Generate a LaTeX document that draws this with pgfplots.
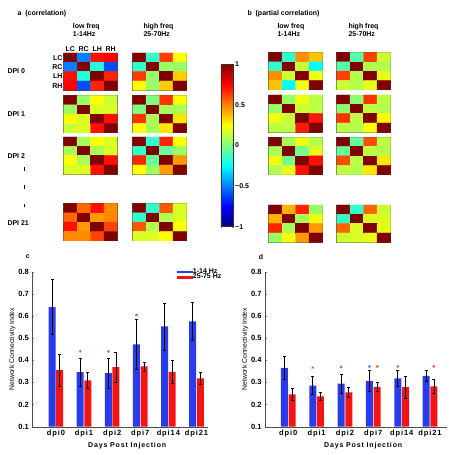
\documentclass[border=0pt]{standalone}
\usepackage{pgfplots}
\pgfplotsset{compat=1.18}
\usepackage{fontspec}
\setmainfont{Liberation Sans}
\newfontfamily\spaced[LetterSpace=12]{Liberation Sans}
\definecolor{barblue}{RGB}{40,60,235}
\definecolor{barred}{RGB}{245,20,20}
\definecolor{starblue}{RGB}{90,100,240}
\definecolor{starred}{RGB}{240,40,60}
\newcommand{\fs}{\bfseries\fontsize{7}{8.3}\selectfont}
\pgfplotsset{
 heat/.style={scale only axis, width=54pt, height=37.3pt, anchor=north west,
   xmin=-0.5,xmax=3.5,ymin=-0.5,ymax=3.5, y dir=reverse, enlargelimits=false,
   xtick=\empty, ytick=\empty, axis line style={black!70, line width=0.6pt},
   colormap/jet, point meta min=-1, point meta max=1},
 bars/.style={scale only axis, anchor=south west, height=155pt, ymin=0.1, ymax=0.8,
   axis x line*=bottom, axis y line*=left, axis line style={-, black!70},
   ytick={0.1,0.2,0.3,0.4,0.5,0.6,0.7,0.8},
   yticklabel style={/pgf/number format/fixed, /pgf/number format/precision=1, /pgf/number format/fixed zerofill, font=\bfseries\fontsize{7.5}{8}\selectfont},
   /pgf/number format/assume math mode=true,
   xtick={0,1,2,3,4,5}, xticklabels={dpi0,dpi1,dpi2,dpi7,dpi14,dpi21},
   xticklabel style={font=\spaced\bfseries\fontsize{7.5}{8}\selectfont},
   major x tick style={draw=none}, tick align=inside, major tick length=2pt,
   ylabel={Network Connectivity Index}, ylabel style={font=\fontsize{6.8}{7}\selectfont, yshift=-4pt},
   xlabel={Days Post Injection}, xlabel style={font=\spaced\bfseries\fontsize{7}{8}\selectfont, yshift=2pt, xshift=7pt}},
 errline/.style={black, line width=0.7pt, mark=-, mark size=1.5pt, mark options={solid, line width=0.6pt}, unbounded coords=jump}
}
\newcommand{\heat}[8]{%
\begin{axis}[heat, at={(#1pt,#2pt)}]
\addplot[matrix plot*, mesh/cols=4, point meta=explicit] coordinates {
(0,0) [1] (1,0) [#3] (2,0) [#4] (3,0) [#5]
(0,1) [#3] (1,1) [1] (2,1) [#6] (3,1) [#7]
(0,2) [#4] (1,2) [#6] (2,2) [1] (3,2) [#8]
(0,3) [#5] (1,3) [#7] (2,3) [#8] (3,3) [1]
};
\end{axis}}
\begin{document}
\begin{tikzpicture}[x=1pt,y=1pt]
\path[use as bounding box] (0,0) rectangle (449,455);
% ---------- headings ----------
\node[anchor=west,inner sep=0pt,font=\fs] at (17.3,441.7) {a\ \ (correlation)};
\node[anchor=west,inner sep=0pt,font=\fs] at (247.3,441.7) {b\ \ (partial correlation)};
\node[anchor=north west,inner sep=0pt,align=left,font=\fs] at (72.7,432) {low freq\\1-14Hz};
\node[anchor=north west,inner sep=0pt,align=left,font=\fs] at (143.3,432) {high freq\\25-70Hz};
\node[anchor=north west,inner sep=0pt,align=left,font=\fs] at (277.3,432) {low freq\\1-14Hz};
\node[anchor=north west,inner sep=0pt,align=left,font=\fs] at (348.3,432) {high freq\\25-70Hz};
\node[anchor=west,inner sep=0pt,font=\fs] at (7.3,384.3) {DPI 0};
\node[anchor=west,inner sep=0pt,font=\fs] at (7.3,340.7) {DPI 1};
\node[anchor=west,inner sep=0pt,font=\fs] at (7.3,299.3) {DPI 2};
\node[anchor=west,inner sep=0pt,font=\fs] at (7.3,231.7) {DPI 21};
\node[inner sep=0pt] at (24.3,286) {\rule{1.4pt}{3.6pt}};
\node[inner sep=0pt] at (24.3,267.7) {\rule{1.4pt}{3.6pt}};
\node[inner sep=0pt] at (24.3,249.3) {\rule{1.4pt}{3.6pt}};
\node[inner sep=0pt,font=\fs] at (27.7,198.3) {c};
\node[inner sep=0pt,font=\fs] at (261,198.3) {d};
% ---------- panel a ----------
\begin{axis}[heat, at={(63.5pt,402pt)}, xtick={0,1,2,3}, ytick={0,1,2,3},
  xticklabels={LC,RC,LH,RH}, yticklabels={LC,RC,LH,RH}, xticklabel pos=upper,
  major tick style={draw=none}, xticklabel style={font=\fs, inner sep=1pt},
  yticklabel style={font=\fs, inner sep=0.8pt}]
\addplot[matrix plot*, mesh/cols=4, point meta=explicit] coordinates {
(0,0) [1] (1,0) [-0.5] (2,0) [0.72] (3,0) [0.75]
(0,1) [-0.5] (1,1) [1] (2,1) [-0.18] (3,1) [-0.6]
(0,2) [0.72] (1,2) [-0.18] (2,2) [1] (3,2) [0.68]
(0,3) [0.75] (1,3) [-0.6] (2,3) [0.68] (3,3) [1]
};
\end{axis}
\heat{132.5}{402}{-0.15}{0.63}{0.25}{0.05}{0.05}{0.35}
\heat{63.5}{359.5}{0.05}{0.25}{0.15}{0.18}{0.18}{0.72}
\heat{132.5}{359.5}{0.0}{0.65}{0.25}{0.08}{0.08}{0.3}
\heat{63.5}{318}{0.08}{0.25}{0.18}{0.08}{0.18}{0.72}
\heat{132.5}{318}{-0.15}{0.68}{0.25}{-0.05}{0.05}{0.45}
\heat{63.5}{251.5}{0.55}{0.72}{0.48}{0.45}{0.48}{0.62}
\heat{132.5}{251.5}{-0.15}{0.58}{0.18}{0.1}{0.18}{0.25}
% ---------- panel b ----------
\heat{268.5}{402.5}{-0.15}{0.47}{0.37}{0.15}{-0.25}{0.22}
\heat{336.5}{402.5}{-0.08}{0.62}{0.15}{0.1}{0.1}{0.2}
\heat{268.5}{360}{0.05}{0.22}{0.12}{0.15}{0.12}{0.7}
\heat{336.5}{360}{0.03}{0.65}{0.12}{0.12}{0.1}{0.25}
\heat{268.5}{317.7}{0.08}{0.22}{0.1}{-0.02}{0.2}{0.72}
\heat{336.5}{317.7}{-0.05}{0.6}{0.12}{0.12}{0.1}{0.3}
\heat{268.5}{250}{0.4}{0.68}{0.05}{0.08}{0.22}{0.45}
\heat{336.5}{250}{-0.15}{0.55}{0.15}{0.18}{0.18}{0.2}
% ---------- colorbar ----------
\begin{axis}[hide axis, scale only axis, width=1pt, height=1pt, at={(212.4pt,391pt)}, anchor=north east,
  colormap/jet, point meta min=-1, point meta max=1, colorbar,
  colorbar style={at={(parent axis.north east)}, anchor=north west, xshift=0pt,
    scale only axis, width=12.6pt, height=162.7pt,
    ytick={-1,-0.5,0,0.5,1}, yticklabels={−1,−0.5,0,0.5,1},
    yticklabel style={font=\fs, inner sep=1.5pt},
    tick align=inside, major tick length=1.5pt, axis line style={black!80}}]
\addplot[draw=none] coordinates {(0,0)};
\end{axis}
% ---------- panel c ----------
\begin{axis}[bars, at={(32.3pt,28.3pt)}, width=175.7pt, xmin=-0.84, xmax=5.41,
  legend style={at={(0.82,1.03)}, anchor=north west, draw=none, fill=none,
    font=\bfseries\fontsize{7}{7}\selectfont, row sep=-2.5pt, inner sep=0pt,
    nodes={inner sep=1pt}}, legend cell align=left]
\addlegendimage{legend image code/.code={\fill[barblue] (0pt,-0.6pt) rectangle (15pt,0.6pt);}}
\addlegendentry{1-14 Hz}
\addlegendimage{legend image code/.code={\fill[barred] (0pt,-0.6pt) rectangle (15pt,0.6pt);}}
\addlegendentry{25-75 Hz}
\addplot[ybar, bar width=7pt, bar shift=-3.83pt, fill=barblue, draw=none, forget plot]
  table[x=x, y=y, row sep=\\] {x y \\ 0 0.640 \\ 1 0.346 \\ 2 0.342 \\ 3 0.472 \\ 4 0.553 \\ 5 0.576 \\};
\addplot[ybar, bar width=7pt, bar shift=3.83pt, fill=barred, draw=none, forget plot]
  table[x=x, y=y, row sep=\\] {x y \\ 0 0.356 \\ 1 0.309 \\ 2 0.369 \\ 3 0.372 \\ 4 0.348 \\ 5 0.318 \\};
\addplot[errline, forget plot] coordinates {
 (-0.136,0.516) (-0.136,0.764) (nan,nan) (0.864,0.282) (0.864,0.410) (nan,nan)
 (1.864,0.274) (1.864,0.410) (nan,nan) (2.864,0.360) (2.864,0.584) (nan,nan)
 (3.864,0.447) (3.864,0.659) (nan,nan) (4.864,0.491) (4.864,0.661) (nan,nan)
 (0.136,0.284) (0.136,0.428) (nan,nan) (1.136,0.273) (1.136,0.345) (nan,nan)
 (2.136,0.302) (2.136,0.436) (nan,nan) (3.136,0.351) (3.136,0.393) (nan,nan)
 (4.136,0.296) (4.136,0.400) (nan,nan) (5.136,0.292) (5.136,0.344)};
\addplot[only marks, mark=asterisk, mark size=1.6pt, starblue, forget plot]
  coordinates {(0.864,0.44) (1.864,0.44) (2.864,0.605)};
\end{axis}
% ---------- panel d ----------
\begin{axis}[bars, at={(265pt,28.3pt)}, width=182.3pt, xmin=-0.82, xmax=5.61]
\addplot[ybar, bar width=7pt, bar shift=-3.85pt, fill=barblue, draw=none]
  table[x=x, y=y, row sep=\\] {x y \\ 0 0.366 \\ 1 0.286 \\ 2 0.295 \\ 3 0.306 \\ 4 0.318 \\ 5 0.329 \\};
\addplot[ybar, bar width=7pt, bar shift=3.85pt, fill=barred, draw=none]
  table[x=x, y=y, row sep=\\] {x y \\ 0 0.246 \\ 1 0.237 \\ 2 0.255 \\ 3 0.280 \\ 4 0.279 \\ 5 0.282 \\};
\addplot[errline] coordinates {
 (-0.136,0.314) (-0.136,0.418) (nan,nan) (0.864,0.245) (0.864,0.327) (nan,nan)
 (1.864,0.253) (1.864,0.337) (nan,nan) (2.864,0.259) (2.864,0.353) (nan,nan)
 (3.864,0.282) (3.864,0.354) (nan,nan) (4.864,0.304) (4.864,0.354) (nan,nan)
 (0.136,0.219) (0.136,0.273) (nan,nan) (1.136,0.220) (1.136,0.254) (nan,nan)
 (2.136,0.231) (2.136,0.279) (nan,nan) (3.136,0.260) (3.136,0.300) (nan,nan)
 (4.136,0.230) (4.136,0.328) (nan,nan) (5.136,0.252) (5.136,0.312)};
\addplot[only marks, mark=asterisk, mark size=1.6pt, starblue]
  coordinates {(0.864,0.367) (1.864,0.370) (2.864,0.372) (3.864,0.372)};
\addplot[only marks, mark=asterisk, mark size=1.6pt, starred]
  coordinates {(3.136,0.372) (5.136,0.372)};
\end{axis}
\end{tikzpicture}
\end{document}
